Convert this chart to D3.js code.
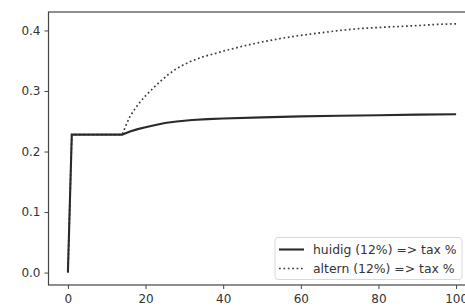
<!DOCTYPE html>
<html>
<head>
<meta charset="utf-8">
<script src="https://cdn.jsdelivr.net/npm/d3@7"></script>
<style>
  body { margin: 0; background: #fff; }
  svg { display: block; }
  text { font-family: "DejaVu Sans", sans-serif; fill: #333; }
</style>
</head>
<body>
<svg class="chart"></svg>
<script>
var width = 465;
var height = 306;

// series values
var huidigX = [0, 1, 2, 4, 6, 8, 10, 12, 14, 16, 18, 20, 22, 25, 28, 32, 36, 40, 50, 60, 70, 80, 90, 100];
var huidigY = [0, 0.228, 0.228, 0.228, 0.228, 0.228, 0.228, 0.228, 0.228, 0.233, 0.237, 0.240, 0.243, 0.247, 0.2495, 0.252, 0.2535, 0.2545, 0.2565, 0.258, 0.259, 0.260, 0.261, 0.2615];

var alternX = [0, 1, 2, 4, 6, 8, 10, 12, 14, 15, 16, 17, 18, 19, 20, 22, 24, 26, 28, 30, 32, 35, 38, 40, 45, 50, 55, 60, 65, 70, 75, 80, 85, 90, 95, 100];
var alternY = [0, 0.228, 0.228, 0.228, 0.228, 0.228, 0.228, 0.228, 0.228, 0.244, 0.258, 0.268, 0.277, 0.285, 0.292, 0.305, 0.317, 0.328, 0.337, 0.344, 0.350, 0.357, 0.362, 0.366, 0.374, 0.381, 0.387, 0.392, 0.396, 0.400, 0.403, 0.405, 0.4065, 0.408, 0.410, 0.411];

var xTicks = [0, 20, 40, 60, 80, 100];
var yTicks = [0.0, 0.1, 0.2, 0.3, 0.4];
var legendLabels = ["huidig (12%) => tax %", "altern (12%) => tax %"];

var plotLeft = 48.5, plotTop = 12, plotBottom = 285, plotRight = 475.5;

var x = d3.scaleLinear().domain([-5, 105]).range([plotLeft, plotRight]);
var y = d3.scaleLinear().domain([-0.0205, 0.4305]).range([plotBottom, plotTop]);

var chart = d3.select(".chart")
    .attr("width", width)
    .attr("height", height);

var line = d3.line()
    .x(function(d) { return x(d[0]); })
    .y(function(d) { return y(d[1]); });

var huidig = d3.zip(huidigX, huidigY);
var altern = d3.zip(alternX, alternY);

chart.append("path")
    .datum(altern)
    .attr("d", line)
    .attr("fill", "none")
    .attr("stroke", "#3a3a3a")
    .attr("stroke-width", 1.7)
    .attr("stroke-dasharray", "1.7,2.7");

chart.append("path")
    .datum(huidig)
    .attr("d", line)
    .attr("fill", "none")
    .attr("stroke", "#2a2a2a")
    .attr("stroke-width", 2.1);

// axes
var xAxis = d3.axisBottom(x).tickValues(xTicks).tickSize(4).tickPadding(5)
    .tickFormat(d3.format("d"));
var yAxis = d3.axisLeft(y).tickValues(yTicks).tickSize(4).tickPadding(4)
    .tickFormat(d3.format(".1f"));

var gx = chart.append("g").attr("transform", "translate(0," + plotBottom + ")").call(xAxis);
var gy = chart.append("g").attr("transform", "translate(" + plotLeft + ",0)").call(yAxis);

[gx, gy].forEach(function(g) {
    g.select(".domain").remove();
    g.selectAll(".tick line").attr("stroke", "#444");
    g.selectAll(".tick text")
        .attr("fill", "#333")
        .style("font-size", "12px")
        .style("font-family", "DejaVu Sans, sans-serif");
});

// spines
chart.append("rect")
    .attr("x", plotLeft)
    .attr("y", plotTop)
    .attr("width", plotRight - plotLeft)
    .attr("height", plotBottom - plotTop)
    .attr("fill", "none")
    .attr("stroke", "#444")
    .attr("stroke-width", 1.2);

// legend
var lg = chart.append("g").attr("transform", "translate(275,237.5)");
lg.append("rect")
    .attr("width", 187)
    .attr("height", 42)
    .attr("rx", 3)
    .attr("fill", "#fff")
    .attr("fill-opacity", 0.8)
    .attr("stroke", "#d8d8d8");

legendLabels.forEach(function(lab, i) {
    var yy = 12 + i * 19;
    lg.append("line")
        .attr("x1", 4).attr("x2", 29)
        .attr("y1", yy).attr("y2", yy)
        .attr("stroke", i === 0 ? "#2a2a2a" : "#3a3a3a")
        .attr("stroke-width", i === 0 ? 2.1 : 1.7)
        .attr("stroke-dasharray", i === 0 ? null : "1.7,2.7");
    lg.append("text")
        .attr("x", 38)
        .attr("y", yy)
        .attr("dy", "0.35em")
        .style("font-size", "12.4px")
        .text(lab);
});
</script>
</body>
</html>
